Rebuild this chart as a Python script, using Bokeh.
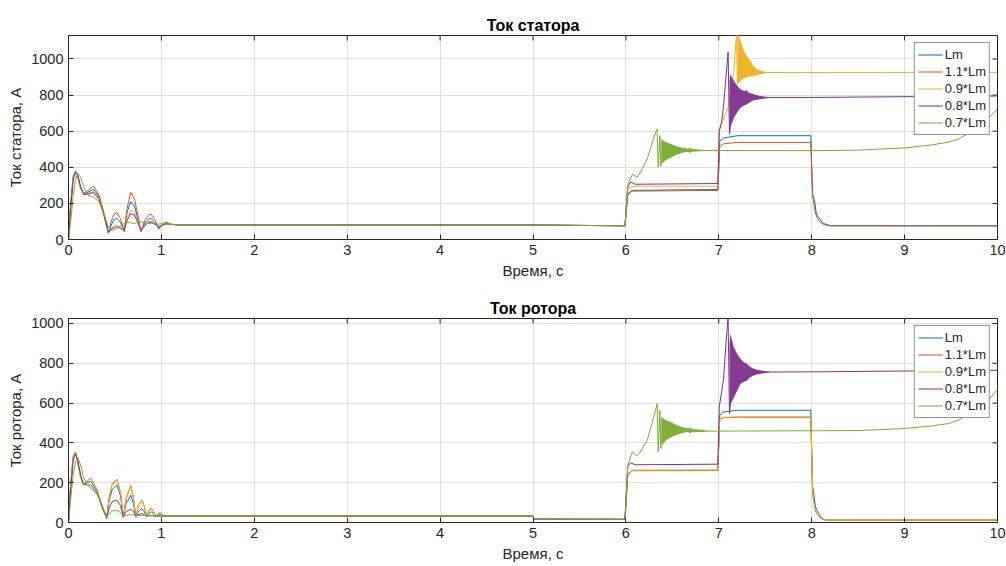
import math
from bokeh.plotting import figure
from bokeh.models import Range1d, Legend, LegendItem, FixedTicker
from bokeh.layouts import column
from bokeh.embed import file_html
from bokeh.resources import INLINE

FONT = "Liberation Sans"
LABELS = ["Lm", "1.1*Lm", "0.9*Lm", "0.8*Lm", "0.7*Lm"]
COLORS = ["#0072BD", "#D95319", "#EDB120", "#7E2F8E", "#77AC30"]
X_TICKS = list(range(0, 11))
Y_TICKS = [0, 200, 400, 600, 800, 1000]

# ================= Stator current (top) =================
# start-up transient (shared time base)
ST_T0 = [0, 0.02, 0.05, 0.075, 0.1, 0.13, 0.165, 0.21, 0.27, 0.33, 0.38, 0.43, 0.46, 0.49, 0.52, 0.56,
         0.6, 0.63, 0.67, 0.71, 0.745, 0.78, 0.82, 0.86, 0.89, 0.93, 0.97, 1.01, 1.05, 1.1, 1.2]
ST_11_0 = [0, 180, 350, 381, 345, 283, 255, 272, 296, 245, 150, 37, 100, 140, 150, 115,
           43, 170, 261, 225, 140, 43, 105, 135, 141, 110, 56, 85, 98, 85, 80]
ST_LM_0 = [0, 170, 345, 378, 350, 285, 250, 262, 278, 235, 145, 35, 80, 110, 117, 95,
           45, 150, 209, 185, 120, 45, 90, 112, 117, 95, 62, 80, 92, 84, 80]
ST_09_0 = [0, 160, 340, 375, 352, 290, 250, 255, 265, 228, 140, 35, 60, 78, 80, 70,
           48, 120, 163, 150, 105, 48, 80, 96, 98, 85, 68, 80, 88, 84, 80]
ST_08_0 = [0, 150, 330, 372, 355, 295, 250, 252, 260, 222, 135, 38, 55, 68, 70, 62,
           50, 105, 144, 135, 95, 50, 75, 95, 98, 85, 70, 80, 86, 84, 80]
ST_07_0 = [0, 80, 240, 330, 368, 345, 290, 245, 235, 210, 140, 70, 50, 55, 61, 75,
           90, 98, 92, 88, 95, 98, 92, 88, 90, 88, 85, 88, 86, 84, 80]

# load steps: points before the ringing
ST_LM_T = [5, 5.99, 6.02, 6.06, 6.99, 7.01, 7.05, 7.2, 7.99, 8.01, 8.03, 8.05, 8.08, 8.12, 8.2, 10]
ST_LM_V = [80, 76, 250, 272, 277, 545, 562, 575, 575, 250, 220, 140, 120, 90, 77, 76]
ST_11_T = [5, 5.99, 6.02, 6.06, 6.99, 7.01, 7.05, 7.2, 7.99, 8.01, 8.03, 8.05, 8.08, 8.12, 8.2, 10]
ST_11_V = [80, 76, 245, 268, 272, 515, 530, 538, 538, 240, 170, 130, 100, 85, 75, 75]
ST_09_T = [5, 5.99, 6.02, 6.06, 6.99, 7.005, 7.03, 7.1, 7.16, 7.19]
ST_09_V = [80, 76, 270, 295, 295, 600, 640, 732, 917, 1140]
ST_08_T = [5, 5.99, 6.02, 6.05, 6.1, 6.99, 7.005, 7.03, 7.05, 7.08, 7.1]
ST_08_V = [80, 76, 290, 318, 306, 310, 603, 650, 732, 917, 1037]
ST_07_T = [5, 5.99, 6.02, 6.07, 6.12, 6.155, 6.23, 6.28, 6.32, 6.336, 6.348, 6.366, 6.376]
ST_07_V = [80, 76, 300, 362, 345, 372, 446, 530, 594, 612, 400, 575, 405]

# envelopes of the dense ringing
ST_09_BT = [7.2, 7.22, 7.27, 7.31, 7.34, 7.37, 7.39, 7.41, 7.45, 7.52]
ST_09_HI = [1140, 1120, 1046, 1010, 990, 965, 953, 945, 935, 927]
ST_09_LO = [860, 875, 898, 903, 907, 910, 905, 915, 917, 925]
ST_08_BT = [7.115, 7.125, 7.16, 7.2, 7.23, 7.27, 7.3, 7.33, 7.37, 7.42, 7.48, 7.55]
ST_08_HI = [880, 917, 880, 852, 834, 822, 825, 812, 806, 798, 792, 789]
ST_08_LO = [585, 631, 677, 710, 732, 745, 751, 762, 773, 778, 783, 787]
ST_07_BT = [6.38, 6.40, 6.44, 6.48, 6.55, 6.62, 6.67, 6.69, 6.71, 6.78, 6.87]
ST_07_HI = [557, 548, 537, 530, 515, 507, 503, 510, 502, 499, 496]
ST_07_LO = [419, 430, 445, 455, 474, 485, 489, 482, 489, 491, 493]

# after the ringing
ST_09_TP = [10]
ST_09_VP = [926]
ST_08_TP = [8.0, 10]
ST_08_VP = [787, 795]
ST_07_TP = [8.0, 8.5, 9.0, 9.29, 9.47, 9.58, 9.68, 9.79, 9.9, 10]
ST_07_VP = [492, 495, 507, 524, 539, 557, 585, 621, 670, 723]

# ================= Rotor current (bottom) =================
RT_T0 = [0, 0.02, 0.05, 0.075, 0.1, 0.13, 0.16, 0.2, 0.24, 0.31, 0.36, 0.41, 0.44, 0.47, 0.52, 0.56,
         0.59, 0.62, 0.67, 0.70, 0.725, 0.75, 0.79, 0.815, 0.84, 0.865, 0.89, 0.915, 0.94, 0.965,
         0.99, 1.02, 1.1, 1.2]
RT_LM_0 = [0, 160, 325, 355, 305, 232, 190, 200, 207, 155, 80, 22, 115, 165, 188, 135,
           28, 95, 137, 95, 28, 55, 70, 55, 32, 45, 54, 45, 32, 38, 40, 34, 32, 32]
RT_11_0 = [0, 175, 335, 352, 298, 230, 190, 207, 223, 163, 80, 20, 132, 192, 218, 152,
           25, 122, 186, 122, 25, 82, 114, 82, 32, 62, 72, 56, 30, 43, 50, 35, 32, 32]
RT_09_0 = [0, 170, 330, 355, 300, 229, 188, 205, 221, 162, 79, 20, 130, 190, 216, 150,
           25, 120, 184, 120, 25, 80, 112, 80, 32, 60, 70, 55, 30, 42, 49, 35, 32, 32]
RT_08_0 = [0, 150, 310, 345, 315, 240, 195, 188, 188, 145, 80, 25, 75, 105, 112, 85,
           30, 55, 67, 55, 32, 40, 45, 40, 32, 34, 36, 34, 32, 32, 32, 32, 32, 32]
RT_07_0 = [0, 100, 240, 300, 328, 290, 230, 190, 171, 140, 90, 28, 45, 58, 62, 50,
           33, 36, 40, 38, 34, 35, 36, 35, 33, 33, 33, 33, 32, 32, 32, 32, 32, 32]

RT_LM_T = [5, 5.01, 5.99, 6.02, 6.06, 6.99, 7.01, 7.05, 7.2, 7.99, 8.01, 8.02, 8.04, 8.06, 8.1, 8.15, 10]
RT_LM_V = [32, 17, 16, 240, 262, 263, 539, 555, 564, 564, 180, 154, 80, 60, 25, 12, 12]
RT_11_T = [5, 5.01, 5.99, 6.02, 6.06, 6.99, 7.01, 7.05, 7.2, 7.99, 8.01, 8.02, 8.04, 8.06, 8.1, 8.15, 10]
RT_11_V = [32, 17, 16, 238, 260, 261, 520, 526, 529, 529, 150, 110, 60, 40, 20, 12, 12]
RT_09_T = [5, 5.01, 5.99, 6.02, 6.06, 6.99, 7.01, 7.05, 7.2, 7.99, 8.01, 8.02, 8.04, 8.06, 8.1, 8.15, 10]
RT_09_V = [32, 17, 16, 240, 262, 263, 522, 528, 531, 531, 150, 110, 60, 40, 20, 12, 12]
RT_08_T = [5, 5.01, 5.99, 6.02, 6.05, 6.1, 6.99, 7.005, 7.05, 7.08, 7.1]
RT_08_V = [32, 17, 16, 280, 300, 290, 293, 581, 715, 916, 1030]
RT_07_T = [5, 5.01, 5.99, 6.02, 6.07, 6.12, 6.155, 6.23, 6.28, 6.32, 6.336, 6.348, 6.366, 6.376]
RT_07_V = [32, 17, 16, 290, 355, 335, 355, 414, 497, 564, 598, 355, 564, 372]

RT_08_BT = [7.115, 7.125, 7.16, 7.2, 7.23, 7.27, 7.3, 7.33, 7.37, 7.42, 7.48, 7.55]
RT_08_HI = [900, 950, 882, 845, 824, 805, 799, 785, 774, 766, 762, 758]
RT_08_LO = [548, 598, 631, 670, 698, 710, 715, 730, 740, 748, 752, 756]
RT_07_BT = [6.38, 6.40, 6.44, 6.48, 6.55, 6.62, 6.67, 6.69, 6.71, 6.78, 6.87]
RT_07_HI = [531, 522, 512, 506, 489, 477, 472, 478, 470, 467, 462]
RT_07_LO = [388, 400, 418, 430, 444, 454, 458, 450, 456, 457, 459]

RT_08_TP = [8.0, 10]
RT_08_VP = [757, 765]
RT_07_TP = [8.5, 9.0, 9.29, 9.47, 9.58, 9.68, 9.79, 9.9, 10]
RT_07_VP = [462, 472, 485, 497, 515, 539, 570, 614, 668]

AXIS_COLOR = "#262626"


def build(title, ylabel, ymax, lines, bands):
    p = figure(width=1006, height=283, x_range=Range1d(0, 10), y_range=Range1d(0, ymax),
               output_backend="svg", toolbar_location=None,
               min_border_left=68, min_border_right=9, min_border_top=35, min_border_bottom=44)
    p.background_fill_color = "white"
    p.border_fill_color = "white"
    p.outline_line_color = AXIS_COLOR
    p.outline_line_width = 1

    p.title.text = title
    p.title.align = "center"
    p.title.text_font = FONT
    p.title.text_font_size = "16px"
    p.title.text_font_style = "bold"
    p.title.text_color = "#000000"
    p.title.standoff = 4

    p.xaxis.ticker = FixedTicker(ticks=X_TICKS)
    p.yaxis.ticker = FixedTicker(ticks=Y_TICKS)
    p.xaxis.axis_label = "Время, с"
    p.yaxis.axis_label = ylabel
    for ax in (p.xaxis[0], p.yaxis[0]):
        ax.axis_label_text_font = FONT
        ax.axis_label_text_font_size = "15px"
        ax.axis_label_text_font_style = "normal"
        ax.axis_label_text_color = AXIS_COLOR
        ax.major_label_text_font = FONT
        ax.major_label_text_font_size = "14.5px"
        ax.major_label_text_color = AXIS_COLOR
        ax.major_tick_in = 5
        ax.major_tick_out = 0
        ax.minor_tick_in = 0
        ax.minor_tick_out = 0
        ax.axis_line_color = AXIS_COLOR
        ax.major_tick_line_color = AXIS_COLOR
        ax.major_label_standoff = 5
        ax.axis_label_standoff = 4

    p.xgrid.grid_line_color = "#dfdfdf"
    p.ygrid.grid_line_color = "#dfdfdf"
    p.xgrid.grid_line_width = 1
    p.ygrid.grid_line_width = 1

    # inward ticks on the top and right edges of the box (clipped by the frame)
    p.scatter(x=X_TICKS, y=[ymax] * len(X_TICKS), marker="dash", size=10, angle=math.pi / 2,
              line_color=AXIS_COLOR, line_width=1)
    p.scatter(x=[10] * len(Y_TICKS), y=Y_TICKS, marker="dash", size=10,
              line_color=AXIS_COLOR, line_width=1)

    items = []
    for i, (t, v) in enumerate(lines):
        b = bands.get(i)
        if b is not None:
            bt, lo, hi = b
            p.varea(x=bt, y1=lo, y2=hi, fill_color=COLORS[i], fill_alpha=0.95)
        r = p.line(t, v, line_color=COLORS[i], line_width=1)
        items.append(LegendItem(label=LABELS[i], renderers=[r]))

    leg = Legend(items=items, location="top_right")
    leg.label_text_font = FONT
    leg.label_text_font_size = "13px"
    leg.label_text_color = AXIS_COLOR
    leg.glyph_width = 25
    leg.glyph_height = 17
    leg.label_height = 17
    leg.label_standoff = 2
    leg.spacing = 0
    leg.padding = 3
    leg.margin = 7
    leg.border_line_color = AXIS_COLOR
    leg.border_line_width = 1
    leg.background_fill_alpha = 1
    p.add_layout(leg)
    return p


top_lines = [
    (ST_T0 + ST_LM_T, ST_LM_0 + ST_LM_V),
    (ST_T0 + ST_11_T, ST_11_0 + ST_11_V),
    (ST_T0 + ST_09_T + ST_09_BT + ST_09_TP, ST_09_0 + ST_09_V + ST_09_LO + ST_09_VP),
    (ST_T0 + ST_08_T + ST_08_BT + ST_08_TP, ST_08_0 + ST_08_V + ST_08_LO + ST_08_VP),
    (ST_T0 + ST_07_T + ST_07_BT + ST_07_TP, ST_07_0 + ST_07_V + ST_07_LO + ST_07_VP),
]
top_bands = {
    2: (ST_09_BT, ST_09_LO, ST_09_HI),
    3: (ST_08_BT, ST_08_LO, ST_08_HI),
    4: (ST_07_BT, ST_07_LO, ST_07_HI),
}
bot_lines = [
    (RT_T0 + RT_LM_T, RT_LM_0 + RT_LM_V),
    (RT_T0 + RT_11_T, RT_11_0 + RT_11_V),
    (RT_T0 + RT_09_T, RT_09_0 + RT_09_V),
    (RT_T0 + RT_08_T + RT_08_BT + RT_08_TP, RT_08_0 + RT_08_V + RT_08_LO + RT_08_VP),
    (RT_T0 + RT_07_T + RT_07_BT + RT_07_TP, RT_07_0 + RT_07_V + RT_07_LO + RT_07_VP),
]
bot_bands = {
    3: (RT_08_BT, RT_08_LO, RT_08_HI),
    4: (RT_07_BT, RT_07_LO, RT_07_HI),
}

p1 = build("Ток статора", "Ток статора, А", 1130, top_lines, top_bands)
p2 = build("Ток ротора", "Ток ротора, А", 1025, bot_lines, bot_bands)
p = column(p1, p2, spacing=0)

open("out.html", "w").write(file_html(p, INLINE))
